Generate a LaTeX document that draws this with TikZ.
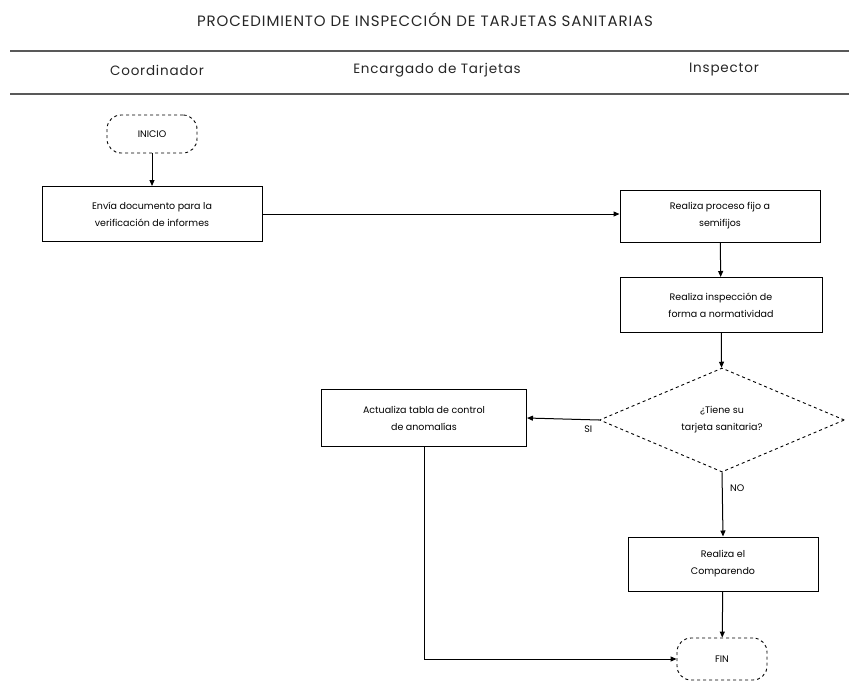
\documentclass[tikz,border=0pt]{standalone}
\usepackage{fontspec}
\setmainfont{Poppins}
\newfontfamily\spacedfont[LetterSpace=6]{Poppins}
\usetikzlibrary{shapes.geometric,arrows.meta}
\begin{document}
\begin{tikzpicture}[x=1pt,y=-1pt,
  every node/.style={font=\fontsize{9.5}{17}\selectfont},
  procbox/.style={draw,line width=1pt,minimum width=#1,minimum height=55,align=center,inner sep=2pt},
  termbox/.style={draw,dashed,line width=0.9pt,rounded corners=14,minimum width=90,minimum height=38},
  decbox/.style={draw,dashed,line width=0.9pt,diamond,aspect=2.35,minimum width=245,minimum height=104,inner sep=0pt,align=center},
  flow/.style={-{Triangle[length=6pt,width=5pt]},line width=1pt},
  lane/.style={font=\spacedfont\fontsize{13.5}{15}\selectfont,text=black!85},
  hline/.style={line width=1.6pt,black!65}]
\useasboundingbox (0,0) rectangle (849,681);
\node[font=\spacedfont\fontsize{15}{17}\selectfont,text=black!85] (title) at (425,20) {PROCEDIMIENTO DE INSPECCIÓN DE TARJETAS SANITARIAS};
\coordinate (h1a) at (10,51); \coordinate (h1b) at (849,51);
\coordinate (h2a) at (10,94); \coordinate (h2b) at (849,94);
\draw[hline] (h1a) -- (h1b);
\draw[hline] (h2a) -- (h2b);
\node[lane] (l1) at (157,70) {Coordinador};
\node[lane] (l2) at (437,70) {Encargado de Tarjetas};
\node[lane] (l3) at (724,70) {Inspector};

\node[termbox] (ini) at (152,134) {INICIO};
\node[procbox=220] (b1) at (152,214) {Envía documento para la\\verificación de informes};
\node[procbox=200,minimum height=52] (b2) at (720,216) {Realiza proceso fijo a\\semifijos};
\node[procbox=202] (b3) at (721,305) {Realiza inspección de\\forma a normatividad};
\node[decbox] (d) at (722,420) {¿Tiene su\\tarjeta sanitaria?};
\node[procbox=205,minimum height=57] (b4) at (424,418) {Actualiza tabla de control\\de anomalías};
\node[procbox=190,minimum height=54] (b5) at (723,564) {Realiza el\\Comparendo};
\node[termbox,minimum height=42] (fin) at (722,659) {FIN};

\draw[flow] (ini) -- (b1);
\draw[flow] (b1.east) -- (b2.west |- b1.east);
\draw[flow] (b2) -- (b3);
\draw[flow] (b3) -- (d);
\draw[flow] (d.west) -- (b4.east) node[pos=0.15,below=2pt] (si) {SI};
\draw[flow] (d.south) -- (b5.north) node[pos=0.25,right=4pt] (no) {NO};
\draw[flow] (b5) -- (fin);
\coordinate (corner) at (b4.south |- fin.west);
\draw[flow] (b4.south) -- (corner) -- (fin.west);
\end{tikzpicture}
\end{document}
